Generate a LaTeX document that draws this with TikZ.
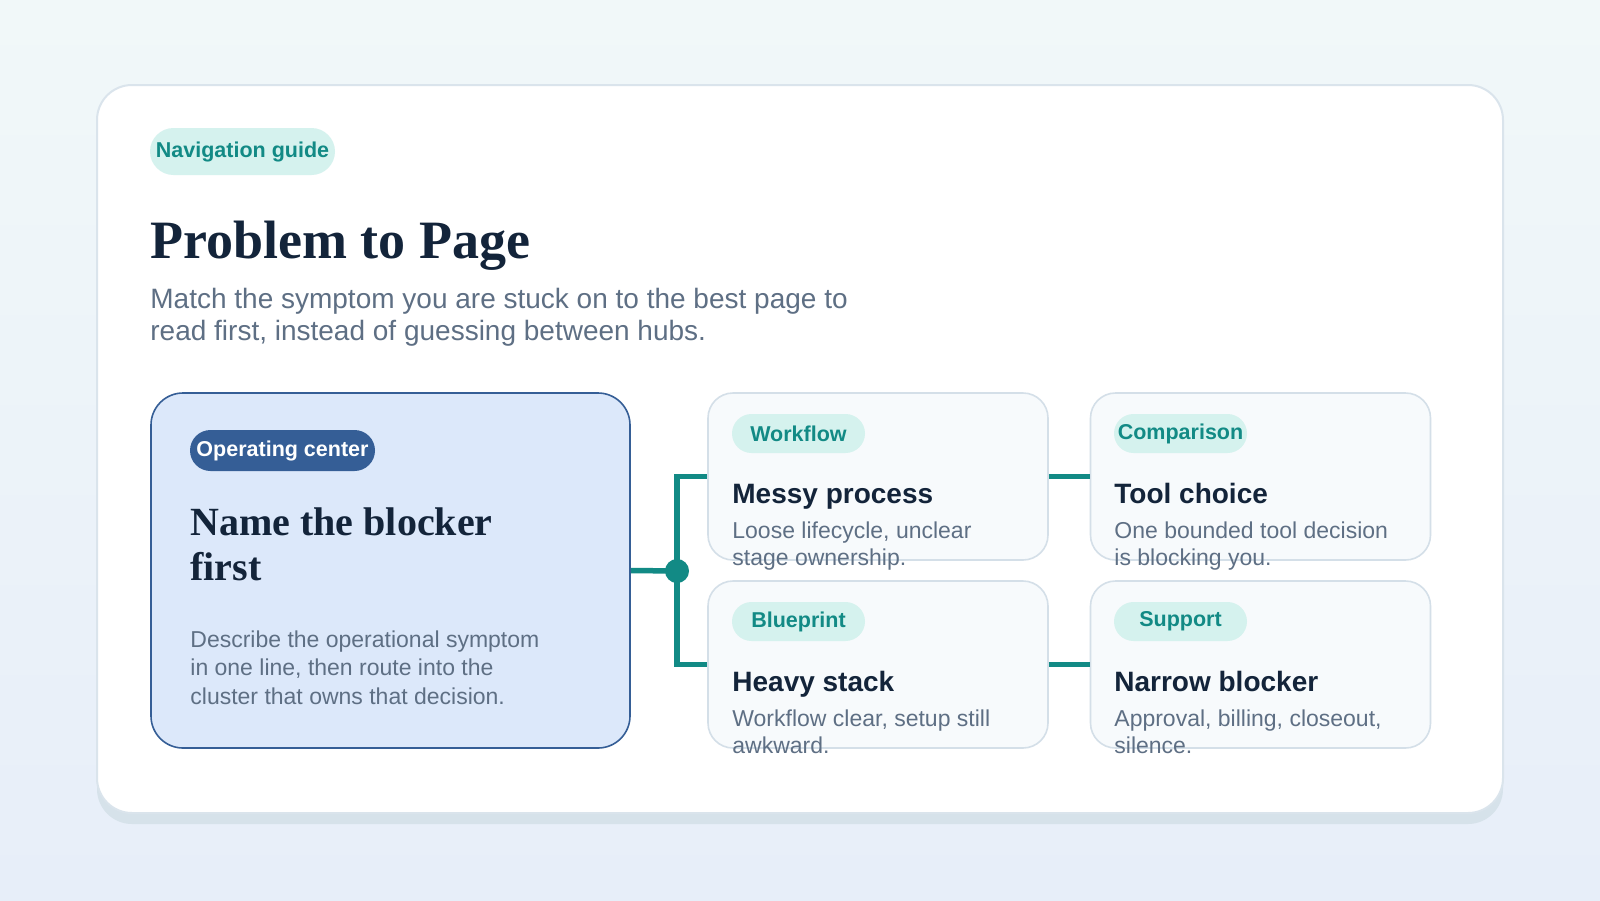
\documentclass[tikz,border=0pt]{standalone}
\usepackage{fontspec}
\setmainfont{Liberation Serif}
\setsansfont{Liberation Sans}
\usetikzlibrary{positioning}
\definecolor{nvbgtop}{HTML}{F1F8F9}
\definecolor{nvbgbot}{HTML}{E7EEF9}
\definecolor{nvshadow}{HTML}{D6E2EA}
\definecolor{nvedge}{HTML}{DAE4EC}
\definecolor{nvink}{HTML}{13243A}
\definecolor{nvmuted}{HTML}{5E6F84}
\definecolor{nvteal}{HTML}{128A85}
\definecolor{nvmint}{HTML}{D5F2EE}
\definecolor{nvnavy}{HTML}{355E96}
\definecolor{nvsky}{HTML}{DCE8FA}
\definecolor{nvpale}{HTML}{F7FAFC}
\definecolor{nvline}{HTML}{D4DFE8}
\tikzset{
  nv text/.style={font=\sffamily, text=nvink},
  nv sheet/.style={fill=white, draw=nvedge, line width=1pt, rounded corners=17.5pt},
  nv tag/.style={fill=nvmint, text=nvteal, inner sep=0pt,
    font={\sffamily\bfseries\fontsize{10.75}{13}\selectfont}},
  nv kind/.style={nv tag, minimum width=66.5pt, minimum height=19.5pt, rounded corners=9.75pt},
  nv badge/.style={fill=nvnavy, text=white, inner sep=0pt, minimum width=92.5pt,
    minimum height=20.5pt, rounded corners=10.25pt,
    font={\sffamily\bfseries\fontsize{10.75}{13}\selectfont}},
  nv hub/.style={fill=nvsky, draw=nvnavy, line width=0.8pt, rounded corners=16pt},
  nv page/.style={fill=nvpale, draw=nvline, line width=0.8pt, rounded corners=12.5pt,
    minimum width=170pt, minimum height=83.5pt},
  nv link/.style={draw=nvteal, line width=2.75pt},
  nv dot/.style={circle, fill=nvteal, minimum size=12pt, inner sep=0pt},
  nv title/.style={anchor=base west, inner sep=0pt, text=nvink,
    font={\rmfamily\bfseries\fontsize{27}{32}\selectfont}},
  nv lede/.style={anchor=base west, inner sep=0pt, align=left, text=nvmuted,
    font={\sffamily\fontsize{14}{16}\selectfont}},
  nv heading/.style={anchor=base west, inner sep=0pt, align=left, text=nvink,
    font={\rmfamily\bfseries\fontsize{20}{22.5}\selectfont}},
  nv note/.style={anchor=base west, inner sep=0pt, align=left, text=nvmuted,
    font={\sffamily\fontsize{11.5}{14.25}\selectfont}},
  nv name/.style={anchor=base west, inner sep=0pt, text=nvink,
    font={\sffamily\bfseries\fontsize{14}{16}\selectfont}},
  nv blurb/.style={anchor=base west, inner sep=0pt, align=left, text=nvmuted,
    font={\sffamily\fontsize{11.5}{13.5}\selectfont}}
}

\begin{document}
\begin{tikzpicture}[nv text, x=0.5pt, y=-0.5pt]
  % backdrop and sheet
  \shade[top color=nvbgtop, bottom color=nvbgbot] (0,0) rectangle (1600,900);
  \useasboundingbox (0,0) rectangle (1600,900);
  \fill[nvshadow, rounded corners=17.5pt] (97,96) rectangle (1503,824);
  \draw[nv sheet] (97,85) rectangle (1503,813);

  % header (multi-line nodes sit on their last baseline)
  \node[nv tag, minimum width=92.5pt, minimum height=23.5pt, rounded corners=11.75pt]
    (guide) at (242.5,151.5) {Navigation guide};
  \node[nv title] (title) at (150,258) {Problem to Page};
  \node[nv lede] (lede) at (150,340)
    {Match the symptom you are stuck on to the best page to\\read first, instead of guessing between hubs.};

  % hub card
  \node[nv hub, minimum width=239.5pt, minimum height=177.5pt] (hub) at (390.5,570.5) {};
  \node[nv badge] (center) at (282.5,450.5) {Operating center};
  \node[nv heading] (ask) at (190,580) {Name the blocker\\first};
  \node[nv note] (how) at (190,704)
    {Describe the operational symptom\\in one line, then route into the\\cluster that owns that decision.};

  % page cards
  \node[nv page] (mess) at (878,476.5) {};
  \node[nv page] (stack) at (878,664.5) {};
  \node[nv page] (tool) at (1260.5,476.5) {};
  \node[nv page] (narrow) at (1260.5,664.5) {};

  % connectors
  \node[nv dot] (fork) at (677,571) {};
  \draw[nv link] (hub.east) -- (fork.center);
  \draw[nv link] (fork.center) |- (mess.west);
  \draw[nv link] (fork.center) |- (stack.west);
  \draw[nv link] (mess.east) -- (tool.west);
  \draw[nv link] (stack.east) -- (narrow.west);

  % page texts
  \node[nv kind] (workflow) at (798.5,433.5) {Workflow};
  \node[nv name] (messname) at (732,503) {Messy process};
  \node[nv blurb] (messtext) at (732,565) {Loose lifecycle, unclear\\stage ownership.};

  \node[nv kind] (blueprint) at (798.5,621.5) {Blueprint};
  \node[nv name] (stackname) at (732,691) {Heavy stack};
  \node[nv blurb] (stacktext) at (732,753) {Workflow clear, setup still\\awkward.};

  \node[nv kind] (comparison) at (1180.5,433.5) {Comparison};
  \node[nv name] (toolname) at (1114,503) {Tool choice};
  \node[nv blurb] (tooltext) at (1114,565) {One bounded tool decision\\is blocking you.};

  \node[nv kind] (support) at (1180.5,621.5) {Support};
  \node[nv name] (narrowname) at (1114,691) {Narrow blocker};
  \node[nv blurb] (narrowtext) at (1114,753) {Approval, billing, closeout,\\silence.};
\end{tikzpicture}
\end{document}
